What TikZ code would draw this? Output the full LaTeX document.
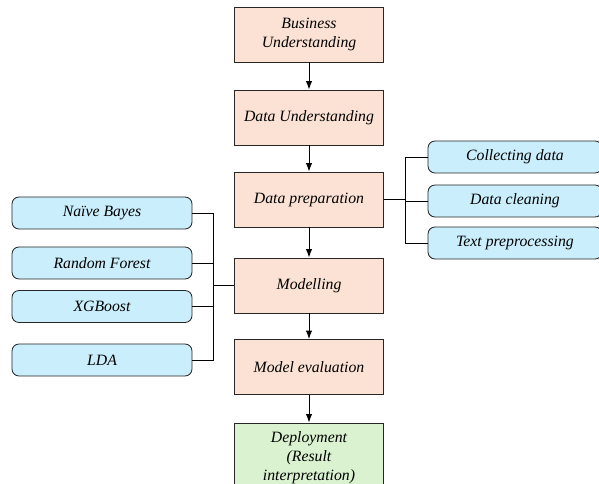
\documentclass[tikz,border=0pt]{standalone}
\usepackage{fontspec}
\setmainfont{Liberation Serif}[ItalicFont={Liberation Serif Italic}]
\usetikzlibrary{arrows.meta}
\definecolor{peach}{HTML}{FBE2D5}
\definecolor{skyblue}{HTML}{CAEEFB}
\definecolor{mint}{HTML}{DAF2D0}
\tikzset{>={Latex[length=6pt,width=4.5pt]}}
\tikzset{
  phase/.style={draw=black!85, fill=peach, line width=.6pt, minimum width=3.725cm, minimum height=1.375cm,
    align=center, font=\fontsize{11.2}{13.5}\selectfont\itshape},
  task/.style={draw=black!85, fill=skyblue, line width=.6pt, rounded corners=5pt, minimum height=.8cm,
    align=center, font=\fontsize{11.2}{13.5}\selectfont\itshape},
  link/.style={line width=.7pt}
}

\begin{document}
\begin{tikzpicture}[x=0.025cm, y=-0.025cm]
    \useasboundingbox (0, 0) rectangle (599, 484);
    \clip (0, 0) rectangle (599, 484);
    % main phases
    \node[phase](bu) at (309, 34.5){Business\\Understanding};
    \node[phase](du) at (309, 117.5){Data Understanding};
    \node[phase](dp) at (309, 199.5){Data preparation};
    \node[phase](mo) at (309, 285.5){Modelling};
    \node[phase](ev) at (309, 367){Model evaluation};
    \node[phase, fill=mint, minimum height=1.75cm, text width=3cm](de) at (309, 458){Deployment\\(Result\\interpretation)};
    \draw[link, ->](bu)--(du);
    \draw[link, ->](du)--(dp);
    \draw[link, ->](dp)--(mo);
    \draw[link, ->](mo)--(ev);
    \draw[link, ->](ev)--(de);
    % preparation tasks
    \node[task, minimum width=4.35cm](cd) at (515, 157){Collecting data};
    \node[task, minimum width=4.35cm](dc) at (515, 201){Data cleaning};
    \node[task, minimum width=4.35cm](tp) at (515, 243){Text preprocessing};
    \coordinate (rj) at (405, 199.5);
    \draw[link](dp.east)--(rj);
    \draw[link](rj)|-(cd.west);
    \draw[link](rj)|-(dc.west);
    \draw[link](rj)|-(tp.west);
    % models
    \node[task, minimum width=4.5cm](nb) at (102, 213){Naïve Bayes};
    \node[task, minimum width=4.5cm](rf) at (102, 263){Random Forest};
    \node[task, minimum width=4.5cm](xg) at (102, 306.5){XGBoost};
    \node[task, minimum width=4.5cm](ld) at (102, 360){LDA};
    \coordinate (lj) at (213, 285.5);
    \draw[link](mo.west)--(lj);
    \draw[link](lj)|-(nb.east);
    \draw[link](lj)|-(rf.east);
    \draw[link](lj)|-(xg.east);
    \draw[link](lj)|-(ld.east);
\end{tikzpicture}
\end{document}
